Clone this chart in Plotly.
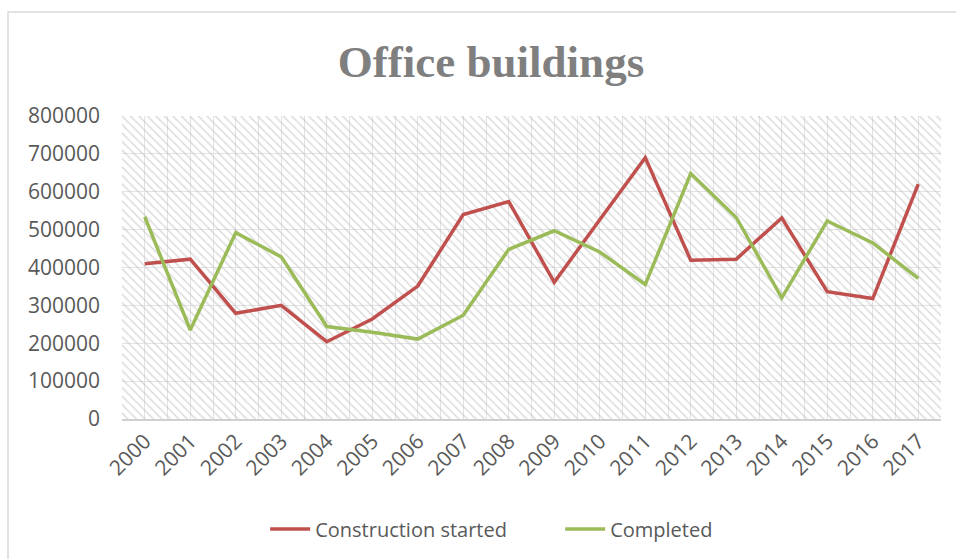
import plotly.graph_objects as go

years = list(range(2000, 2018))
construction_started = [410000, 422000, 279000, 300000, 204000, 264000, 351000, 540000, 574000, 361000,
                        526000, 690000, 419000, 422000, 531000, 336000, 318000, 620000]
completed = [534000, 235000, 492000, 428000, 244000, 229000, 211000, 274000, 448000, 497000,
             441000, 355000, 648000, 532000, 320000, 523000, 465000, 371000]
series_names = ["Construction started", "Completed"]
series_colors = ["#c0504d", "#9bbb59"]
y_max = 800000
y_step = 100000

fig = go.Figure()

# hatched plot-area background
fig.add_trace(go.Bar(
    x=years, y=[y_max] * len(years), width=1,
    marker=dict(color="rgba(0,0,0,0)", line=dict(width=0),
                pattern=dict(shape="\\", fgcolor="#b8b8b8", size=6, solidity=0.25, fillmode="overlay")),
    showlegend=False, hoverinfo="skip",
))

for name, vals, col in zip(series_names, [construction_started, completed], series_colors):
    fig.add_trace(go.Scatter(x=years, y=vals, mode="lines", name=name,
                             line=dict(color=col, width=3.5)))

bx0 = -114.0 / 819
by1 = (419 - 12) / 303
fig.update_layout(
    width=956, height=559,
    margin=dict(l=122, r=15, t=116, b=140, autoexpand=False),
    paper_bgcolor="white", plot_bgcolor="white",
    font=dict(family="Open Sans", color="#595959", size=21),
    title=dict(text="<b>Office buildings</b>", x=491.0 / 956, xanchor="center", xref="container",
               y=1 - 61.0 / 559, yanchor="middle", yref="container",
               font=dict(family="Liberation Serif", size=45, color="#7f7f7f")),
    legend=dict(orientation="h", x=0.535, xanchor="center", y=1 - 529.0 / 559, yanchor="middle",
                yref="container",
                font=dict(size=20, color="#595959"), itemwidth=40, traceorder="normal",
                entrywidth=240, entrywidthmode="pixels"),
    bargap=0,
    shapes=[dict(type="path", xref="paper", yref="paper",
                 path=f"M {bx0},-0.6 L {bx0},{by1} L 1.1,{by1}",
                 line=dict(color="#d9d9d9", width=1.5), fillcolor="rgba(0,0,0,0)", layer="below")],
)

fig.update_xaxes(
    type="linear", range=[years[0] - 0.5, years[-1] + 0.5],
    tickmode="array", tickvals=years, ticktext=[str(y) for y in years],
    tickangle=-45, showgrid=True, gridcolor="#e3e3e3", gridwidth=1,
    minor=dict(tickmode="linear", tick0=years[0] - 0.5, dtick=1, showgrid=True, gridcolor="#e3e3e3", gridwidth=1),
    showline=True, linecolor="#d0d0d0", linewidth=1.5, ticks="", zeroline=False,
    tickfont=dict(size=21, color="#595959"),
)
fig.update_yaxes(
    range=[0, y_max], dtick=y_step, tick0=0, tickformat="d",
    showgrid=True, gridcolor="#e3e3e3", gridwidth=1, zeroline=False,
    showline=False, ticks="", ticklabelstandoff=21,
    tickfont=dict(size=21, color="#595959"),
)

fig.write_html(
    "out.html",
    config={"displayModeBar": False},
    post_script="document.body.style.margin='0';document.body.style.overflow='hidden';",
)
